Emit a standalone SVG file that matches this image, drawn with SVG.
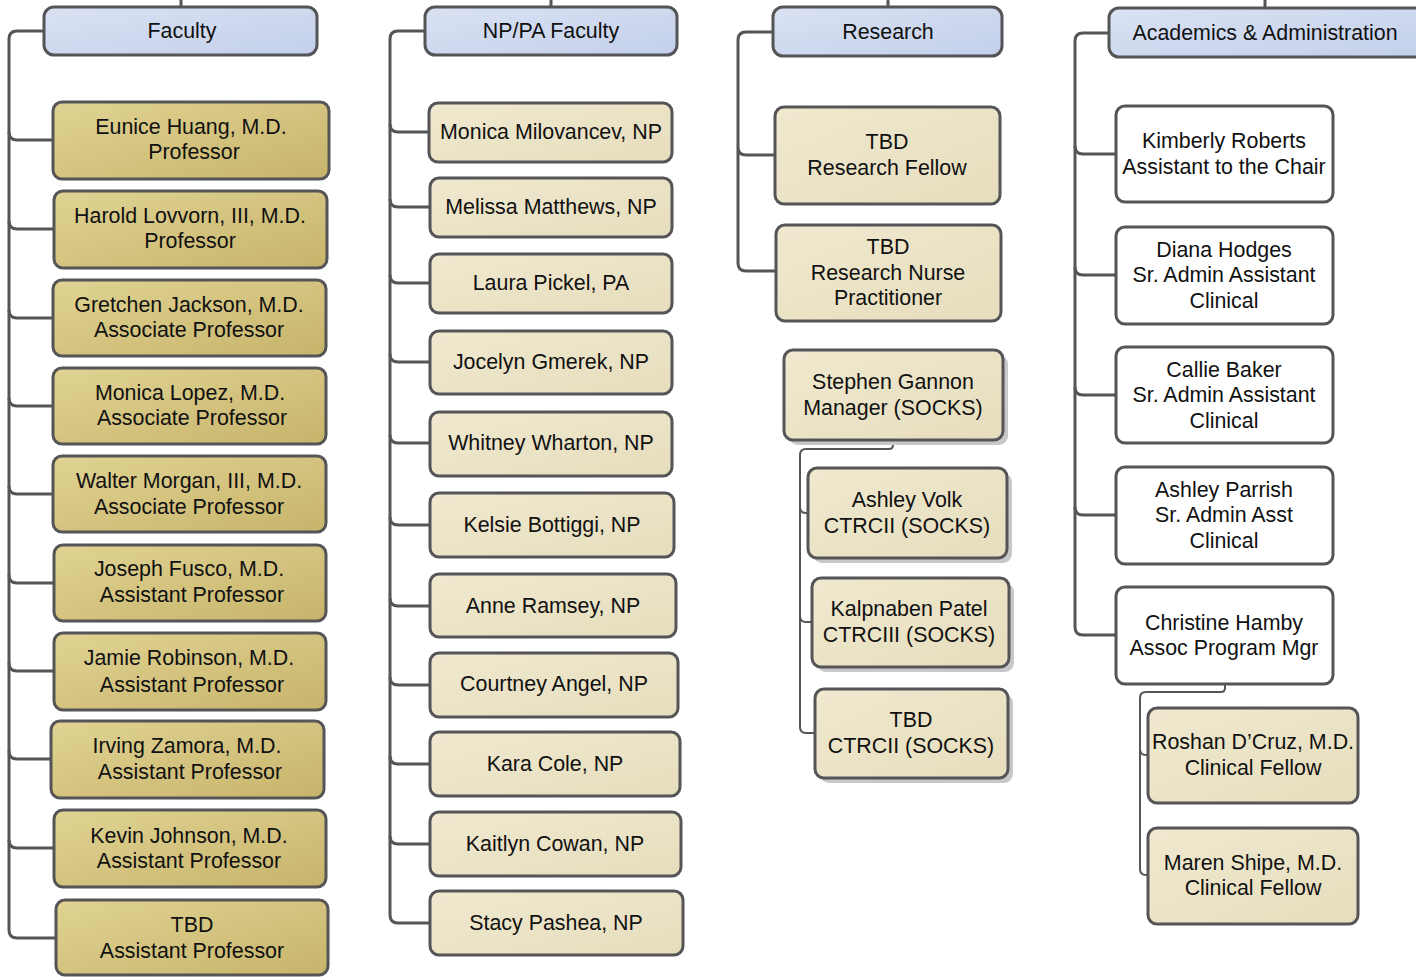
<svg xmlns="http://www.w3.org/2000/svg" width="1416" height="977" viewBox="0 0 1416 977">
<defs>
<linearGradient id="gHead" x1="0" y1="0" x2="1" y2="1"><stop offset="0" stop-color="#dae2f3"/><stop offset="1" stop-color="#c3d0eb"/></linearGradient>
<linearGradient id="gGold" x1="0" y1="0" x2="1" y2="1"><stop offset="0" stop-color="#e0d393"/><stop offset="1" stop-color="#c7b46b"/></linearGradient>
<linearGradient id="gBeige" x1="0" y1="0" x2="1" y2="1"><stop offset="0" stop-color="#f0e9cf"/><stop offset="1" stop-color="#e6ddbd"/></linearGradient>
<style>
.box{stroke:#555558;stroke-width:3}
.head{fill:url(#gHead)}
.gold{fill:url(#gGold)}
.beige{fill:url(#gBeige)}
.white{fill:#ffffff}
.shadow{fill:#c8c8c8}
text{font-family:"Liberation Sans",Arial,sans-serif;font-size:21.4px;fill:#111;text-anchor:middle}
.c{fill:none;stroke:#555558;stroke-width:3}
.c2{fill:none;stroke:#555558;stroke-width:2}
</style>
</defs>
<g id="connectors">
<path class="c" d="M181,0V7M551,0V7M888,0V7M1265,0V8"/>
<path class="c" d="M44,31H17Q9,31 9,39V930Q9,938 17,938H56"/>
<path class="c" d="M9,132Q9,140 17,140H53M9,221Q9,229 17,229H54M9,310Q9,318 17,318H53M9,398Q9,406 17,406H53M9,486Q9,494 17,494H53M9,575Q9,583 17,583H54M9,663Q9,671 17,671H54M9,751Q9,759 17,759H51M9,840Q9,848 17,848H54"/>
<path class="c" d="M425,31H398Q390,31 390,39V915Q390,923 398,923H430"/>
<path class="c" d="M390,124Q390,132 398,132H429M390,199Q390,207 398,207H430M390,275Q390,283 398,283H430M390,354Q390,362 398,362H430M390,435Q390,443 398,443H430M390,517Q390,525 398,525H430M390,598Q390,606 398,606H430M390,677Q390,685 398,685H430M390,756Q390,764 398,764H430M390,836Q390,844 398,844H430"/>
<path class="c" d="M773,32H746Q738,32 738,40V263Q738,271 746,271H776M738,147Q738,155 746,155H775"/>
<path class="c" d="M1109,33H1083Q1075,33 1075,41V627Q1075,635 1083,635H1116"/>
<path class="c" d="M1075,146Q1075,154 1083,154H1116M1075,267Q1075,275 1083,275H1116M1075,387Q1075,395 1083,395H1116M1075,507Q1075,515 1083,515H1116"/>
<path class="c2" d="M893,440V445Q893,449 889,449H806Q800,449 800,455V727Q800,733 806,733H815M800,507Q800,513 806,513H808M800,616Q800,622 806,622H812"/>
<path class="c2" d="M1225,684V688Q1225,692 1221,692H1146Q1140,692 1140,698V869Q1140,875 1146,875H1148M1140,749Q1140,755 1146,755H1148"/>
</g>
<g id="n-faculty"><rect class="box head" x="44" y="7" width="273" height="48" rx="10"/><text x="182" y="38">Faculty</text></g>
<g id="n-npfac"><rect class="box head" x="425" y="7" width="252" height="48" rx="10"/><text x="551" y="38">NP/PA Faculty</text></g>
<g id="n-research"><rect class="box head" x="773" y="7" width="229" height="49" rx="10"/><text x="888" y="39">Research</text></g>
<g id="n-acad"><rect class="box head" x="1109" y="8" width="320" height="49" rx="10"/><text x="1265" y="40">Academics &amp; Administration</text></g>

<g id="n-eunice"><rect class="box gold" x="53" y="102" width="276" height="77" rx="9"/><text x="191" y="134">Eunice Huang, M.D.</text><text x="194" y="159">Professor</text></g>
<g id="n-harold"><rect class="box gold" x="54" y="191" width="273" height="77" rx="9"/><text x="190" y="223">Harold Lovvorn, III, M.D.</text><text x="190" y="248">Professor</text></g>
<g id="n-gretchen"><rect class="box gold" x="53" y="280" width="273" height="76" rx="9"/><text x="189" y="312">Gretchen Jackson, M.D.</text><text x="189" y="337">Associate Professor</text></g>
<g id="n-monical"><rect class="box gold" x="53" y="368" width="273" height="76" rx="9"/><text x="190" y="400">Monica Lopez, M.D.</text><text x="192" y="425">Associate Professor</text></g>
<g id="n-walter"><rect class="box gold" x="53" y="456" width="273" height="76" rx="9"/><text x="189" y="488">Walter Morgan, III, M.D.</text><text x="189" y="514">Associate Professor</text></g>
<g id="n-joseph"><rect class="box gold" x="54" y="545" width="272" height="76" rx="9"/><text x="189" y="576">Joseph Fusco, M.D.</text><text x="192" y="602">Assistant Professor</text></g>
<g id="n-jamie"><rect class="box gold" x="54" y="633" width="272" height="77" rx="9"/><text x="189" y="665">Jamie Robinson, M.D.</text><text x="192" y="692">Assistant Professor</text></g>
<g id="n-irving"><rect class="box gold" x="51" y="721" width="273" height="77" rx="9"/><text x="187" y="753">Irving Zamora, M.D.</text><text x="190" y="779">Assistant Professor</text></g>
<g id="n-kevin"><rect class="box gold" x="54" y="810" width="272" height="77" rx="9"/><text x="189" y="843">Kevin Johnson, M.D.</text><text x="189" y="868">Assistant Professor</text></g>
<g id="n-tbdap"><rect class="box gold" x="56" y="900" width="272" height="75" rx="9"/><text x="192" y="932">TBD</text><text x="192" y="958">Assistant Professor</text></g>

<g id="n-milovancev"><rect class="box beige" x="429" y="103" width="243" height="59" rx="9"/><text x="551" y="139">Monica Milovancev, NP</text></g>
<g id="n-matthews"><rect class="box beige" x="430" y="178" width="242" height="59" rx="9"/><text x="551" y="214">Melissa Matthews, NP</text></g>
<g id="n-pickel"><rect class="box beige" x="430" y="254" width="242" height="59" rx="9"/><text x="551" y="290">Laura Pickel, PA</text></g>
<g id="n-gmerek"><rect class="box beige" x="430" y="331" width="242" height="63" rx="9"/><text x="551" y="369">Jocelyn Gmerek, NP</text></g>
<g id="n-wharton"><rect class="box beige" x="430" y="412" width="242" height="64" rx="9"/><text x="551" y="450">Whitney Wharton, NP</text></g>
<g id="n-bottiggi"><rect class="box beige" x="430" y="493" width="244" height="64" rx="9"/><text x="552" y="532">Kelsie Bottiggi, NP</text></g>
<g id="n-ramsey"><rect class="box beige" x="430" y="574" width="246" height="63" rx="9"/><text x="553" y="613">Anne Ramsey, NP</text></g>
<g id="n-angel"><rect class="box beige" x="430" y="653" width="248" height="64" rx="9"/><text x="554" y="691">Courtney Angel, NP</text></g>
<g id="n-cole"><rect class="box beige" x="430" y="732" width="250" height="64" rx="9"/><text x="555" y="771">Kara Cole, NP</text></g>
<g id="n-cowan"><rect class="box beige" x="430" y="812" width="251" height="64" rx="9"/><text x="555" y="851">Kaitlyn Cowan, NP</text></g>
<g id="n-pashea"><rect class="box beige" x="430" y="891" width="253" height="64" rx="9"/><text x="556" y="930">Stacy Pashea, NP</text></g>

<g id="n-rfellow"><rect class="box beige" x="775" y="107" width="225" height="97" rx="9"/><text x="887" y="149">TBD</text><text x="887" y="175">Research Fellow</text></g>
<g id="n-rnp"><rect class="box beige" x="776" y="225" width="225" height="96" rx="9"/><text x="888" y="254">TBD</text><text x="888" y="280">Research Nurse</text><text x="888" y="305">Practitioner</text></g>
<g id="n-gannon"><rect class="shadow" x="789" y="355" width="219" height="90" rx="9"/><rect class="box beige" x="784" y="350" width="219" height="90" rx="9"/><text x="893" y="389">Stephen Gannon</text><text x="893" y="415">Manager (SOCKS)</text></g>
<g id="n-volk"><rect class="shadow" x="813" y="473" width="199" height="90" rx="9"/><rect class="box beige" x="808" y="468" width="199" height="90" rx="9"/><text x="907" y="507">Ashley Volk</text><text x="907" y="533">CTRCII (SOCKS)</text></g>
<g id="n-patel"><rect class="shadow" x="817" y="583" width="197" height="89" rx="9"/><rect class="box beige" x="812" y="578" width="197" height="89" rx="9"/><text x="909" y="616">Kalpnaben Patel</text><text x="909" y="642">CTRCIII (SOCKS)</text></g>
<g id="n-tbdctrc"><rect class="shadow" x="820" y="694" width="193" height="89" rx="9"/><rect class="box beige" x="815" y="689" width="193" height="89" rx="9"/><text x="911" y="727">TBD</text><text x="911" y="753">CTRCII (SOCKS)</text></g>

<g id="n-roberts"><rect class="box white" x="1116" y="106" width="217" height="96" rx="9"/><text x="1224" y="148">Kimberly Roberts</text><text x="1224" y="174">Assistant to the Chair</text></g>
<g id="n-hodges"><rect class="box white" x="1116" y="227" width="217" height="97" rx="9"/><text x="1224" y="257">Diana Hodges</text><text x="1224" y="282">Sr. Admin Assistant</text><text x="1224" y="308">Clinical</text></g>
<g id="n-baker"><rect class="box white" x="1116" y="347" width="217" height="96" rx="9"/><text x="1224" y="377">Callie Baker</text><text x="1224" y="402">Sr. Admin Assistant</text><text x="1224" y="428">Clinical</text></g>
<g id="n-parrish"><rect class="box white" x="1116" y="467" width="217" height="97" rx="9"/><text x="1224" y="497">Ashley Parrish</text><text x="1224" y="522">Sr. Admin Asst</text><text x="1224" y="548">Clinical</text></g>
<g id="n-hamby"><rect class="box white" x="1116" y="587" width="217" height="97" rx="9"/><text x="1224" y="630">Christine Hamby</text><text x="1224" y="655">Assoc Program Mgr</text></g>
<g id="n-dcruz"><rect class="box beige" x="1148" y="708" width="210" height="95" rx="9"/><text x="1253" y="749">Roshan D’Cruz, M.D.</text><text x="1253" y="775">Clinical Fellow</text></g>
<g id="n-shipe"><rect class="box beige" x="1148" y="828" width="210" height="96" rx="9"/><text x="1253" y="870">Maren Shipe, M.D.</text><text x="1253" y="895">Clinical Fellow</text></g>
</svg>
